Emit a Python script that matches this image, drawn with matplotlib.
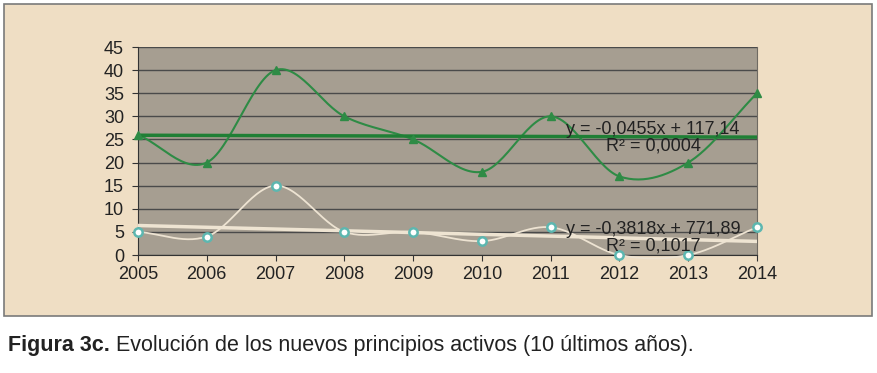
import numpy as np
import matplotlib.pyplot as plt
from matplotlib.patches import Rectangle

# data
years = [2005, 2006, 2007, 2008, 2009, 2010, 2011, 2012, 2013, 2014]
green_vals = [26, 20, 40, 30, 25, 18, 30, 17, 20, 35]
light_vals = [5, 4, 15, 5, 5, 3, 6, 0, 0, 6]

# trend lines as printed on the chart (slope, intercept)
green_fit = (-0.0455, 117.14)
light_fit = (-0.3818, 771.89)
green_eq = ["y = -0,0455x + 117,14", "R² = 0,0004"]
light_eq = ["y = -0,3818x + 771,89", "R² = 0,1017"]

caption_bold = "Figura 3c."
caption_text = " Evolución de los nuevos principios activos (10 últimos años)."

W, H = 878, 373


def smooth(x, y, n=30):
    # catmull-rom spline, close to the smoothed lines of a spreadsheet
    x = np.asarray(x, float)
    y = np.asarray(y, float)
    px = np.concatenate([[2 * x[0] - x[1]], x, [2 * x[-1] - x[-2]]])
    py = np.concatenate([[2 * y[0] - y[1]], y, [2 * y[-1] - y[-2]]])
    xs, ys = [], []
    t = np.linspace(0, 1, n)
    for i in range(1, len(px) - 2):
        for p, out in ((px, xs), (py, ys)):
            p0, p1, p2, p3 = p[i - 1], p[i], p[i + 1], p[i + 2]
            out.append(0.5 * ((2 * p1) + (-p0 + p2) * t
                              + (2 * p0 - 5 * p1 + 4 * p2 - p3) * t ** 2
                              + (-p0 + 3 * p1 - 3 * p2 + p3) * t ** 3))
    return np.concatenate(xs), np.concatenate(ys)


plt.rcParams['font.family'] = ['Liberation Sans', 'DejaVu Sans']

fig = plt.figure(figsize=(W / 100, H / 100), dpi=100)
fig.patch.set_facecolor('white')

# beige panel behind the chart
bg = fig.add_axes([0, 0, 1, 1], zorder=0)
bg.set_xlim(0, W)
bg.set_ylim(H, 0)
bg.axis('off')
bg.add_patch(Rectangle((4, 4), 868, 312, facecolor='#EFDEC4',
                       edgecolor='#7a7a7a', lw=1.2))

ax = fig.add_axes([138 / W, (H - 255) / H, (757 - 138) / W, (255 - 47) / H],
                  zorder=1)
ax.set_facecolor('#A69E91')
ax.set_xlim(2005, 2014)
ax.set_ylim(0, 45)
ax.set_yticks(range(0, 46, 5))
ax.set_xticks(years)
ax.spines['top'].set_visible(False)
ax.spines['right'].set_color('#6f6a62')
ax.spines['left'].set_color('#333333')
ax.spines['bottom'].set_color('#333333')
ax.yaxis.grid(True, color='#4a4a4a', lw=1)
ax.set_axisbelow(True)
ax.tick_params(axis='both', direction='out', length=4, color='#333333',
               labelsize=13, labelcolor='#222222')
ax.tick_params(axis='y', pad=6)
ax.tick_params(axis='x', pad=4)

yr = np.array(years, float)
gx, gy = smooth(years, green_vals)
ax.plot(gx, gy, color='#2E8B45', lw=1.5, clip_on=False, zorder=3)
ax.plot(years, green_vals, ls='none', marker='^', ms=6, color='#2E8B45',
        clip_on=False, zorder=4)
ax.plot(yr, green_fit[0] * yr + green_fit[1], color='#1F7F35', lw=2.5, zorder=3)

lx, ly = smooth(years, light_vals)
ax.plot(lx, ly, color='#EDE3D2', lw=1.3, clip_on=False, zorder=3)
ax.plot(yr, light_fit[0] * yr + light_fit[1], color='#EEE4D2', lw=2.5, zorder=3)
ax.plot(years, light_vals, ls='none', marker='o', ms=6, mfc='white',
        mec='#5DB7B0', mew=1.8, clip_on=False, zorder=5)

for i, line in enumerate(green_eq):
    fig.text(653 / W, 1 - (129 + 17 * i) / H, line, ha='center', va='center',
             fontsize=13, color='#222222', zorder=6)
for i, line in enumerate(light_eq):
    fig.text(653 / W, 1 - (229 + 17 * i) / H, line, ha='center', va='center',
             fontsize=13, color='#222222', zorder=6)

cap1 = fig.text(8 / W, 1 - 345 / H, caption_bold, ha='left', va='center',
                fontsize=15.5, fontweight='bold', color='#222222')
fig.canvas.draw()
bb = cap1.get_window_extent()
fig.text(bb.x1 / W, 1 - 345 / H, caption_text, ha='left', va='center',
         fontsize=15.5, color='#222222')

fig.savefig('out.png', dpi=100)
